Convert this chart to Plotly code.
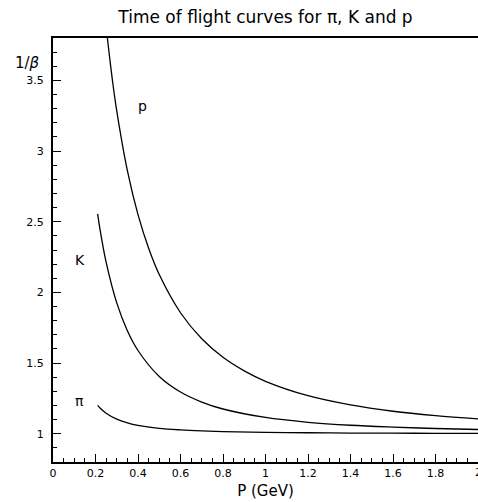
import plotly.graph_objects as go

# Momentum values (GeV) and 1/beta
p_pion = [0.21, 0.22, 0.25, 0.30, 0.35, 0.40, 0.50, 0.60, 0.70, 0.80, 1.00, 1.20, 1.40, 1.60, 1.80, 2.00]
ib_pion = [1.201, 1.184, 1.145, 1.103, 1.077, 1.059, 1.038, 1.027, 1.020, 1.015, 1.010, 1.007, 1.005, 1.004, 1.003, 1.002]

p_kaon = [0.21, 0.22, 0.25, 0.30, 0.35, 0.40, 0.50, 0.60, 0.70, 0.80, 1.00, 1.20, 1.40, 1.60, 1.80, 2.00]
ib_kaon = [2.555, 2.457, 2.214, 1.926, 1.729, 1.589, 1.405, 1.295, 1.224, 1.175, 1.115, 1.081, 1.060, 1.047, 1.037, 1.030]

p_proton = [0.25, 0.26, 0.28, 0.30, 0.35, 0.40, 0.45, 0.50, 0.60, 0.70, 0.80, 0.90, 1.00, 1.20, 1.40, 1.60, 1.80, 2.00]
ib_proton = [3.884, 3.745, 3.497, 3.284, 2.861, 2.550, 2.312, 2.126, 1.856, 1.672, 1.541, 1.445, 1.371, 1.269, 1.204, 1.159, 1.128, 1.105]

labels = ["π", "K", "p"]
label_x = [0.125, 0.125, 0.42]
label_y = [1.23, 2.23, 3.32]

FONT = "DejaVu Sans"

fig = go.Figure()
for xs, ys in [(p_pion, ib_pion), (p_kaon, ib_kaon), (p_proton, ib_proton)]:
    fig.add_trace(go.Scatter(x=xs, y=ys, mode="lines", line=dict(color="black", width=1.3, shape="spline"),
                             showlegend=False, hoverinfo="skip"))

for t, lx, ly in zip(labels, label_x, label_y):
    fig.add_annotation(x=lx, y=ly, xref="x", yref="y", text=t, showarrow=False,
                       font=dict(family=FONT, size=14, color="black"))

fig.add_annotation(x=-0.061, y=0.94, xref="paper", yref="paper", text="1/<i>β</i>", showarrow=False,
                   xanchor="center", yanchor="middle",
                   font=dict(family=FONT, size=15, color="black"))

# last x tick label, partly cut by the page edge as in the original
fig.add_annotation(x=2.0, y=0, xref="x", yref="paper", text="2", showarrow=False,
                   xanchor="center", yanchor="top", yshift=-2,
                   font=dict(family=FONT, size=11, color="black"))

fig.update_layout(
    width=478, height=502,
    margin=dict(l=53, r=0, t=38, b=40),
    paper_bgcolor="white", plot_bgcolor="white",
    title=dict(text="Time of flight curves for π, K and p", x=0.5, xref="paper",
               y=1 - 17 / 502, yref="container", xanchor="center", yanchor="middle",
               font=dict(family=FONT, size=17, color="black")),
    font=dict(family=FONT, color="black"),
)
fig.update_xaxes(range=[0, 2], dtick=0.2, tick0=0, ticks="inside", ticklen=8, tickwidth=1, tickcolor="black",
                 minor=dict(dtick=0.05, ticks="inside", ticklen=4, tickcolor="black", showgrid=False),
                 showline=True, linecolor="black", linewidth=2, mirror=True, showgrid=False, zeroline=False,
                 tickfont=dict(family=FONT, size=11), automargin=False,
                 title=dict(text="P (GeV)", font=dict(family=FONT, size=15), standoff=6))
fig.update_yaxes(range=[0.8, 3.8], dtick=0.5, tick0=0, ticks="inside", ticklen=8, tickwidth=1, tickcolor="black",
                 minor=dict(dtick=0.1, ticks="inside", ticklen=4, tickcolor="black", showgrid=False),
                 showline=True, linecolor="black", linewidth=2, mirror=True, showgrid=False, zeroline=False,
                 tickfont=dict(family=FONT, size=11), automargin=False, ticklabelstandoff=5)

fig.write_html("out.html", config={"displayModeBar": False},
               post_script="document.body.style.margin='0';document.body.style.padding='0';")
